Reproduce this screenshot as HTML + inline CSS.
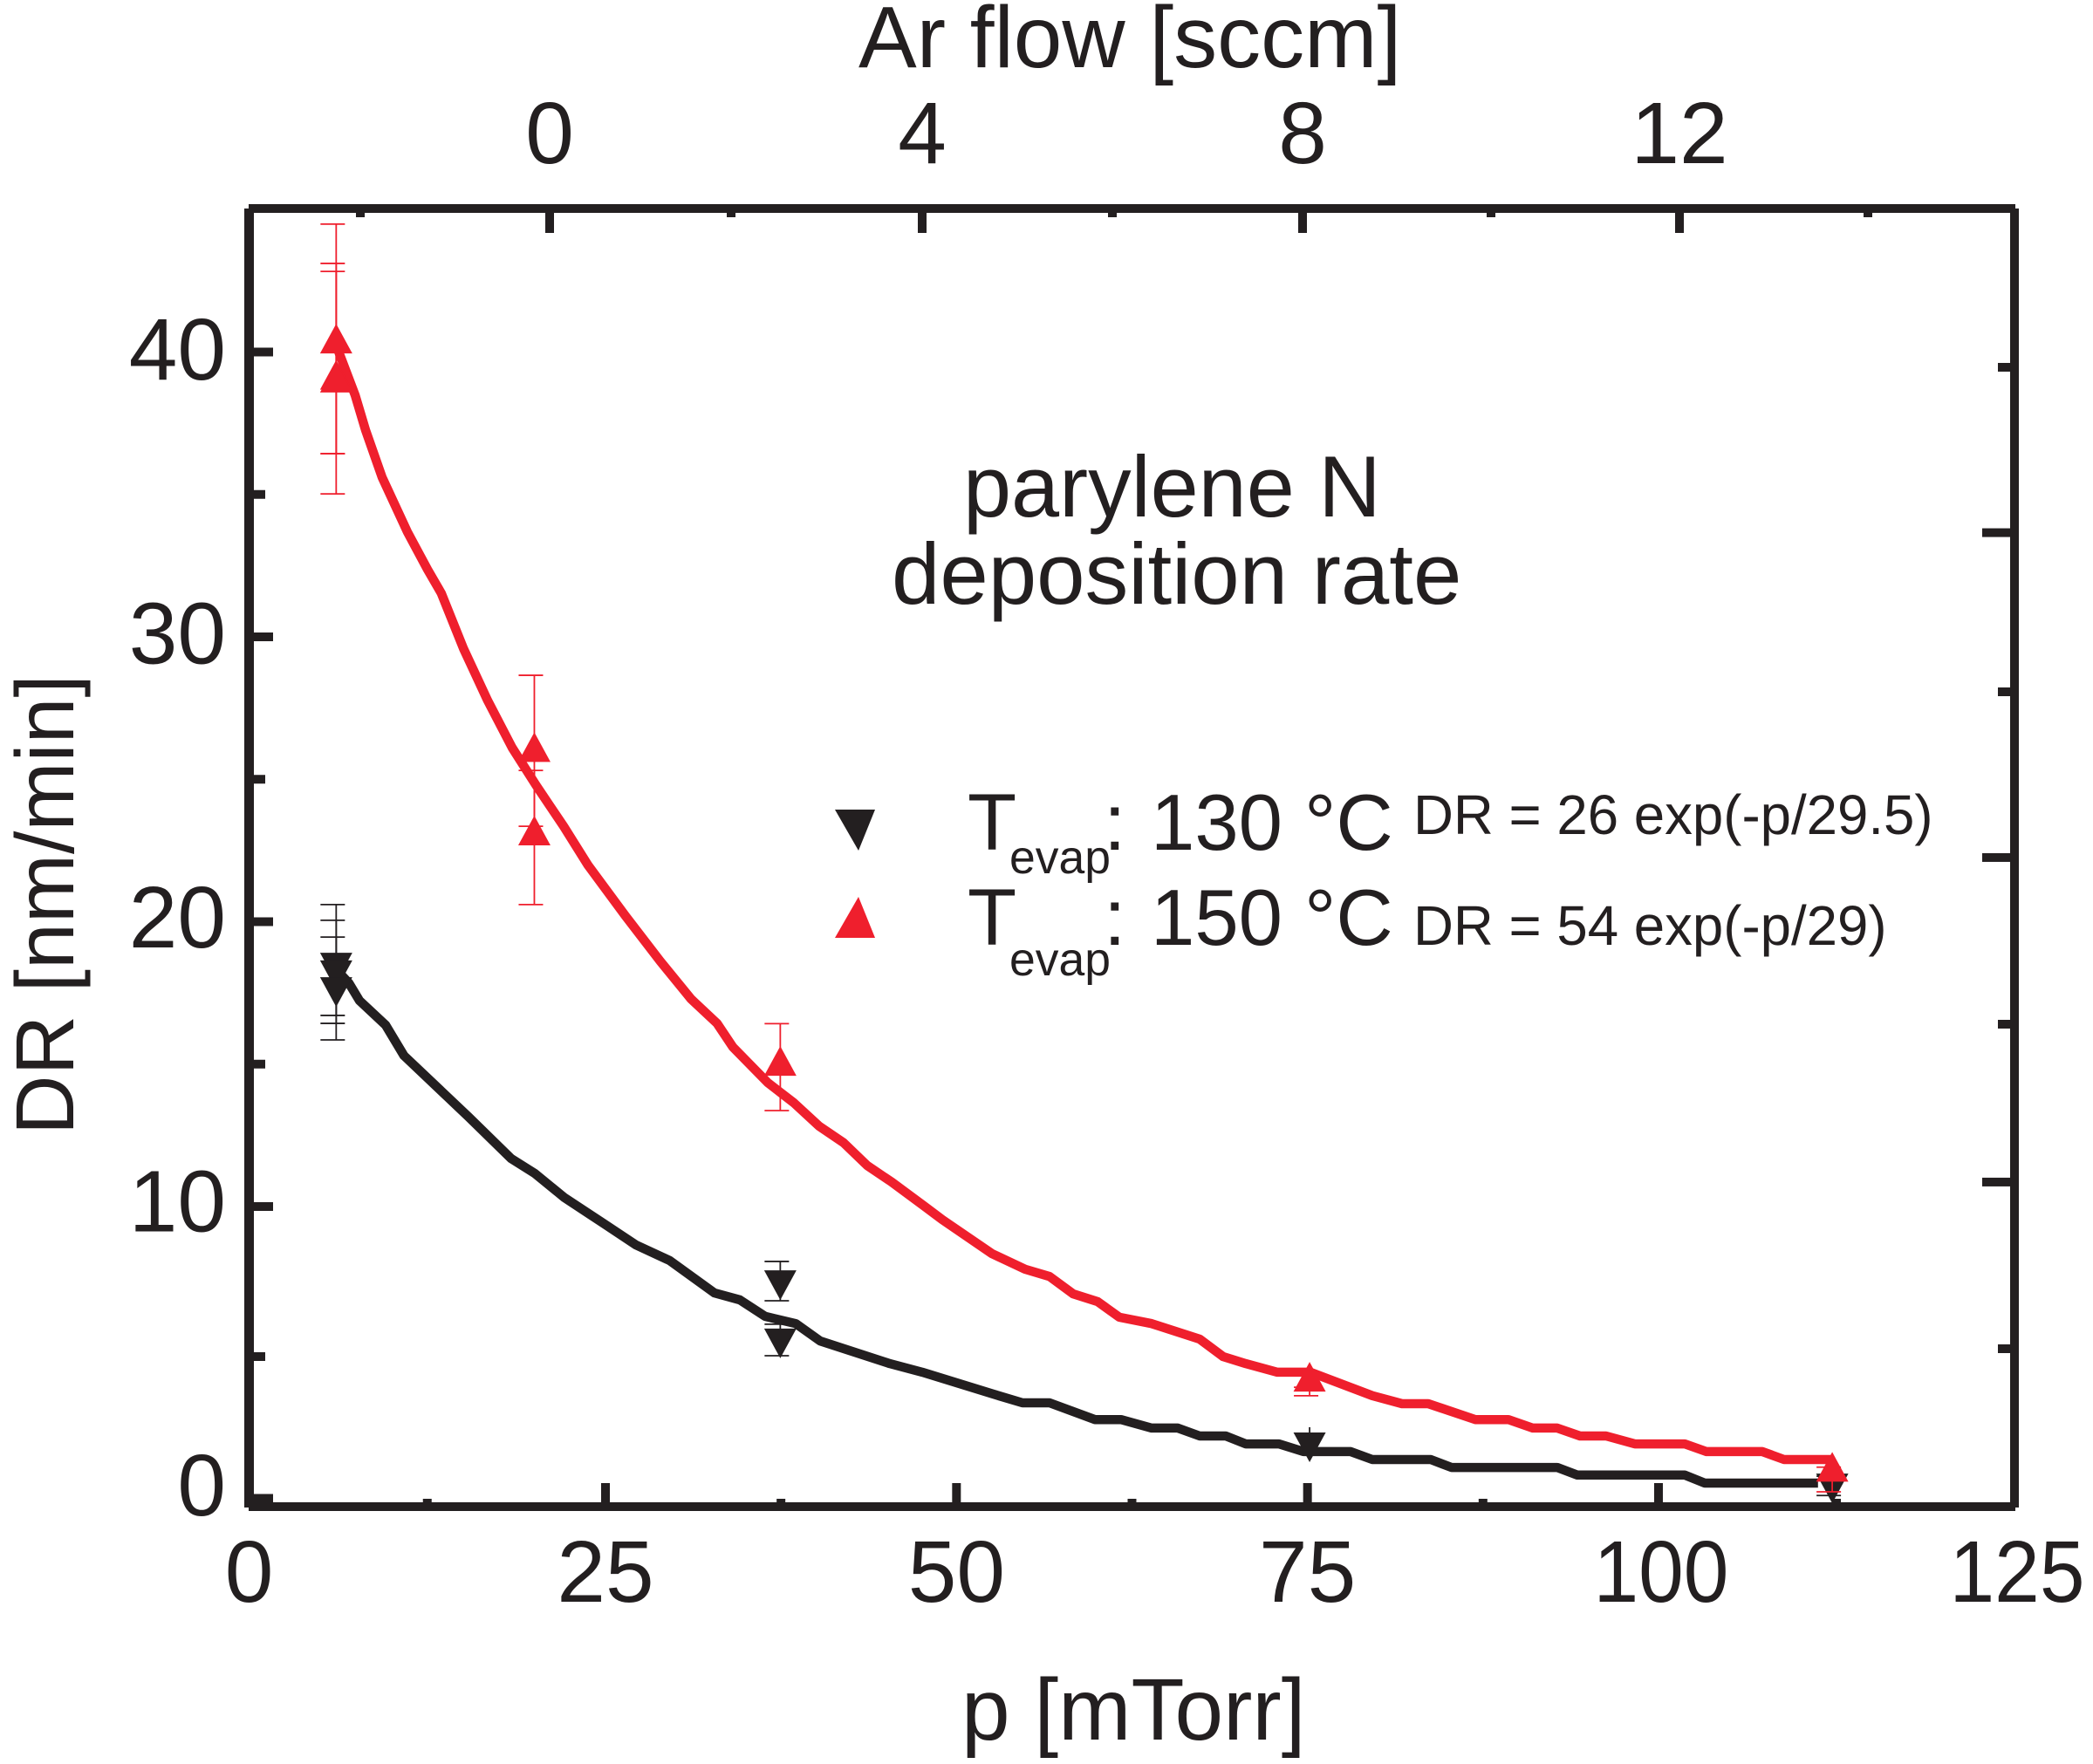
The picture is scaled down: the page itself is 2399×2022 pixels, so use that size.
<!DOCTYPE html>
<html lang="en">
<head>
<meta charset="utf-8">
<title>Parylene N deposition rate</title>
<style>
  html, body { margin: 0; padding: 0; background: #fff; }
  svg { display: block; }
  text { font-family: "Liberation Sans", Arial, sans-serif; fill: #231f20; }
</style>
</head>
<body>
<svg id="chart" xmlns="http://www.w3.org/2000/svg" width="2399" height="2022" viewBox="0 0 2399 2022">
  <rect x="0" y="0" width="2399" height="2022" fill="#fff"/>
  <g id="ticks"></g>
  <g id="series-black"></g>
  <g id="series-red"></g>
  <g fill="#231f20">
    <rect x="280" y="239" width="11" height="1489"/>
    <rect x="2304" y="239" width="10" height="1489"/>
    <rect x="285" y="234" width="2025" height="10"/>
    <rect x="285" y="1722" width="2025" height="10"/>
  </g>
  <g id="labels" font-size="100"></g>
  <text x="984" y="77" font-size="100">Ar flow [sccm]</text>
  <text x="1102" y="1994" font-size="100">p [mTorr]</text>
  <text transform="translate(84 1301) rotate(-90)" font-size="95">DR [nm/min]</text>
  <text x="1104" y="592" font-size="99">parylene N</text>
  <text x="1022" y="692" font-size="99.6">deposition rate</text>
  <g>
    <g>
      <polygon points="957,928 1003,928 984,975" fill="#231f20"/>
      <text x="1109" y="974" font-size="92">T</text>
      <text x="1157" y="1001" font-size="53.5">evap</text>
      <text x="1265" y="974" font-size="92">:</text>
      <text x="1319" y="974" font-size="90.5">130 °C</text>
      <text x="1620" y="956" font-size="63.6">DR = 26 exp(-p/29.5)</text>
    </g>
    <g>
      <polygon points="957,1075 1003,1075 984,1028" fill="#ef1f2d"/>
      <text x="1109" y="1083" font-size="92">T</text>
      <text x="1157" y="1118" font-size="53.5">evap</text>
      <text x="1265" y="1083" font-size="92">:</text>
      <text x="1319" y="1083" font-size="90.5">150 °C</text>
      <text x="1620" y="1083" font-size="63.6">DR = 54 exp(-p/29)</text>
    </g>
  </g>
</svg>
<script>
// ---- chart data ----
const bottomMajorTicks = [25, 50, 75, 100];
const bottomMinorTicks = [12.5, 37.5, 62.5, 87.5, 112.5];
const bottomLabels = [0, 25, 50, 75, 100, 125];
const leftMajorTicks = [0, 10, 20, 30, 40];
const leftMinorTicks = [5, 15, 25, 35];
const leftLabels = [0, 10, 20, 30, 40];
const topMajorTicks = [0, 4, 8, 12];
const topMinorTicks = [-2, 2, 6, 10, 14];
const topLabels = [0, 4, 8, 12];
const rightMajorTicks = [2.019, 4.003, 5.989];
const rightMinorTicks = [1, 2.984, 5.016, 7];

const redCurveP = [6.27,7.44,8.17,9.33,11.11,12.52,13.48,15.03,16.74,18.45,20.13,22.06,23.78,26.43,28.91,31.09,32.95,34.07,36.56,38.42,40.22,41.96,43.64,45.38,47.74,48.99,52.53,54.89,56.63,58.31,60.05,61.6,63.9,67.32,68.99,70.61,72.85,75.21,79.62,81.73,83.6,86.95,89.31,91.05,92.79,94.41,96.27,98.32,101.84,103.37,107.29,108.82,112.19];
const redCurveDR = [40.02,38.48,37.26,35.6,33.68,32.36,31.53,29.6,27.76,26.11,24.79,23.35,21.98,20.2,18.61,17.29,16.43,15.6,14.35,13.64,12.82,12.24,11.44,10.86,10,9.56,8.43,7.91,7.67,7.09,6.83,6.31,6.1,5.58,5,4.75,4.45,4.45,3.62,3.34,3.34,2.78,2.78,2.48,2.48,2.2,2.2,1.92,1.92,1.65,1.65,1.37,1.37];
const blackCurveP = [6.21,7.01,7.74,9.58,10.86,15.39,18.39,20.04,22.13,24.82,27.17,29.57,32.77,34.57,36.37,38.55,40.29,45.26,47.56,52.6,54.7,56.63,59.86,61.72,63.9,65.76,67.32,69.18,70.61,72.97,74.71,78.07,79.62,83.78,85.27,92.79,94.22,101.84,103.25,111.2];
const blackCurveDR = [18.27,17.84,17.23,16.37,15.3,13.15,11.68,11.16,10.31,9.45,8.72,8.2,7.12,6.89,6.34,6.1,5.52,4.75,4.45,3.68,3.37,3.37,2.78,2.78,2.48,2.48,2.2,2.2,1.92,1.92,1.65,1.65,1.37,1.37,1.09,1.09,0.82,0.82,0.54,0.54];

const redPointP = [6.11,6.11,6.11,20.01,20.01,37.45,75.15,112.2];
const redPointDR = [40.47,39.2,39.1,26.13,23.2,15.11,4.29,1.11];
const redPointHi = [44.49,43.11,42.83,28.65,25.31,16.42,3.92,1.1];
const redPointLo = [36.43,35.02,36.43,23.35,20.6,13.37,3.62,0.23];
const redCapless = [];

const blackPointP = [6.11,6.11,6.11,37.45,37.45,75.15,112.2];
const blackPointDR = [18.39,18.12,17.53,7.38,5.44,1.8,0.35];
const blackPointHi = [20.6,20.05,19.46,8.17,6.08,2.51,0.78];
const blackPointLo = [16.71,16.43,15.85,6.86,5.03,1.37,0.1];
const blackCapless = [5];

// ---- axis functions ----
function px(p) {
  if (p <= 25) return 285.5 + 16.34 * p;
  if (p <= 100) return 694 + (p - 25) * 16.093;
  return 1901 + (p - 100) * 16.32;
}
function py(v) {
  if (v <= 5) return 1717.5 - 32.5 * v;
  if (v <= 10) return 1555 - (v - 5) * 34.4;
  return 1383 - (v - 10) * 32.65;
}
function topX(v) {
  if (v <= 0) return 630 + 108.5 * v;
  if (v <= 2) return 630 + 104 * v;
  if (v <= 4) return 838 + (v - 2) * 109.5;
  if (v <= 8) return 1057 + (v - 4) * 109;
  return 1493 + (v - 8) * 108;
}
function rightY(v) { return 1733.5 - 187.5 * v; }
function leftLabelY(v) { return 1737 - 32.55 * v; }

// ---- drawing ----
const NS = 'http://www.w3.org/2000/svg';
const INK = '#231f20';
const RED = '#ef1f2d';
function make(tag, attrs, parent) {
  const el = document.createElementNS(NS, tag);
  for (const k in attrs) el.setAttribute(k, attrs[k]);
  parent.appendChild(el);
  return el;
}

const tickGroup = document.getElementById('ticks');
function drawTick(x, y, w, h, name) {
  const el = make('rect', { x: x, y: y, width: w, height: h, fill: INK }, tickGroup);
  
  
}
bottomMajorTicks.forEach(v => drawTick(px(v) - 5, 1700, 10, 24, 'x-tick-major'));
bottomMinorTicks.forEach(v => drawTick(px(v) - 5, 1718, 10, 6, 'x-tick-minor'));
leftMajorTicks.forEach(v => drawTick(289, py(v) - 5, 24, 10, 'y-tick-major'));
leftMinorTicks.forEach(v => drawTick(289, py(v) - 5, 15, 10, 'y-tick-minor'));
topMajorTicks.forEach(v => drawTick(topX(v) - 5, 242, 10, 25, 'top-tick-major'));
topMinorTicks.forEach(v => drawTick(topX(v) - 5, 242, 10, 7, 'top-tick-minor'));
rightMajorTicks.forEach(v => drawTick(2272, rightY(v) - 5, 34, 10, 'right-tick-major'));
rightMinorTicks.forEach(v => drawTick(2290, rightY(v) - 5, 16, 10, 'right-tick-minor'));

const labelGroup = document.getElementById('labels');
function drawLabel(x, y, str, anchor, name) {
  const el = make('text', { x: x, y: y, 'text-anchor': anchor }, labelGroup);
  el.textContent = str;
  if (str.length === 3) {
    el.setAttribute('x', x + 3);
    el.setAttribute('textLength', 155);
    el.setAttribute('lengthAdjust', 'spacingAndGlyphs');
  }
  
  
}
bottomLabels.forEach(v => drawLabel(px(v), 1836, String(v), 'middle', 'x-tick-label'));
leftLabels.forEach(v => drawLabel(259, leftLabelY(v), String(v), 'end', 'y-tick-label'));
topLabels.forEach(v => drawLabel(topX(v), 187, String(v), 'middle', 'top-tick-label'));

function drawSeries(groupId, color, curveP, curveDR, pointP, pointDR, pointHi, pointLo, capless, direction) {
  const group = document.getElementById(groupId);
  // error bars
  pointP.forEach((p, i) => {
    const cx = px(p);
    const yHi = py(pointHi[i]);
    const yLo = py(pointLo[i]);
    const stem = make('line', { x1: cx, x2: cx, y1: yHi, y2: yLo, stroke: color, 'stroke-width': 1.8 }, group);
    
    
    if (capless.includes(i)) return;
    const capTop = make('line', { x1: cx - 18, x2: cx + 10, y1: yHi, y2: yHi, stroke: color, 'stroke-width': 1.8 }, group);
    
    
    const capBottom = make('line', { x1: cx - 18, x2: cx + 10, y1: yLo, y2: yLo, stroke: color, 'stroke-width': 1.8 }, group);
    
    
  });
  // fit curve
  const pts = curveP.map((p, i) => px(p).toFixed(1) + ',' + py(curveDR[i]).toFixed(1)).join(' ');
  const line = make('polyline', { points: pts, fill: 'none', stroke: color, 'stroke-width': 10.5, 'stroke-linejoin': 'round' }, group);
  
  
  // markers
  pointP.forEach((p, i) => {
    const cx = px(p);
    const cy = py(pointDR[i]);
    const half = 17 * direction;
    const poly = make('polygon', {
      points: (cx - 18.5) + ',' + (cy + half) + ' ' + (cx + 18.5) + ',' + (cy + half) + ' ' + cx + ',' + (cy - half),
      fill: color
    }, group);
    
    
  });
}
drawSeries('series-black', INK, blackCurveP, blackCurveDR, blackPointP, blackPointDR, blackPointHi, blackPointLo, blackCapless, -1);
drawSeries('series-red', RED, redCurveP, redCurveDR, redPointP, redPointDR, redPointHi, redPointLo, redCapless, 1);
</script>
</body>
</html>
